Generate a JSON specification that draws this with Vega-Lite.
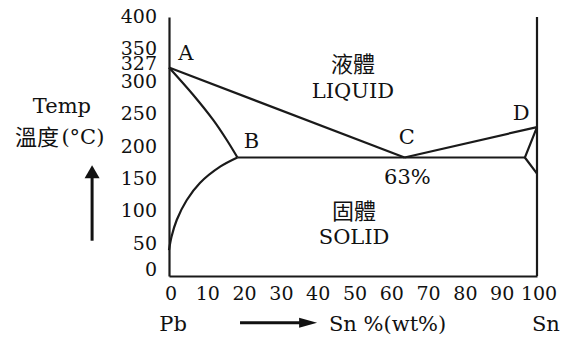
{
  "$schema": "https://vega.github.io/schema/vega-lite/v6.json",
  "width": 368,
  "height": 259,
  "autosize": {"type": "none"},
  "padding": {"left": 169, "top": 17, "right": 40, "bottom": 62},
  "background": "white",
  "config": {
    "view": {"stroke": null},
    "axis": {
      "title": null, "ticks": false, "grid": false, "labels": false,
      "domainColor": "#1a1a1a", "domainWidth": 2.2
    }
  },
  "datasets": {
    "lines": [
      {"seg": "AC", "o": 1, "x": 0, "y": 322},
      {"seg": "AC", "o": 2, "x": 64, "y": 183},
      {"seg": "CD", "o": 1, "x": 64, "y": 183},
      {"seg": "CD", "o": 2, "x": 100, "y": 230},
      {"seg": "eut", "o": 1, "x": 18.6, "y": 183},
      {"seg": "eut", "o": 2, "x": 96.7, "y": 183},
      {"seg": "Dsol", "o": 1, "x": 100, "y": 230},
      {"seg": "Dsol", "o": 2, "x": 96.7, "y": 183},
      {"seg": "Dsol", "o": 3, "x": 100, "y": 158}
    ],
    "curves": [
      {"seg": "AB", "o": 1, "x": 0, "y": 322},
      {"seg": "AB", "o": 2, "x": 6.6, "y": 279.5},
      {"seg": "AB", "o": 3, "x": 12, "y": 241},
      {"seg": "AB", "o": 4, "x": 15.7, "y": 210},
      {"seg": "AB", "o": 5, "x": 18.6, "y": 183},
      {"seg": "solv", "o": 1, "x": 0, "y": 40},
      {"seg": "solv", "o": 2, "x": 0.7, "y": 61},
      {"seg": "solv", "o": 3, "x": 2.1, "y": 86.5},
      {"seg": "solv", "o": 4, "x": 4.8, "y": 117},
      {"seg": "solv", "o": 5, "x": 8.4, "y": 143.6},
      {"seg": "solv", "o": 6, "x": 13.9, "y": 168.8},
      {"seg": "solv", "o": 7, "x": 18.6, "y": 183}
    ],
    "xticks": [
      {"v": 0}, {"v": 10}, {"v": 20}, {"v": 30}, {"v": 40}, {"v": 50},
      {"v": 60}, {"v": 70}, {"v": 80}, {"v": 90}, {"v": 100}
    ],
    "yticks": [
      {"v": 0}, {"v": 50}, {"v": 100}, {"v": 150}, {"v": 200},
      {"v": 250}, {"v": 300}, {"v": 327}, {"v": 350}, {"v": 400}
    ],
    "labels": [
      {"t": "A", "x": 4.6, "y": 343.6},
      {"t": "B", "x": 22.4, "y": 207},
      {"t": "C", "x": 64.6, "y": 212.7},
      {"t": "D", "x": 95.7, "y": 250},
      {"t": "63%", "x": 64.8, "y": 152},
      {"t": "LIQUID", "x": 50, "y": 284},
      {"t": "SOLID", "x": 50.3, "y": 58},
      {"t": "Temp", "x": -29.1, "y": 261},
      {"t": "(°C)", "x": -23.4, "y": 213},
      {"t": "Pb", "x": 1.1, "y": -75.7},
      {"t": "Sn %(wt%)", "x": 59.4, "y": -75.7},
      {"t": "Sn", "x": 102.4, "y": -75.7}
    ],
    "cjk": [
      {"t": "液體", "x": 50, "y": 326},
      {"t": "固體", "x": 50.3, "y": 99},
      {"t": "溫度", "x": -35.9, "y": 213}
    ],
    "shafts": [
      {"x": -20.9, "x2": -20.9, "y": 54.5, "y2": 155},
      {"x": 19.3, "x2": 36, "y": -72.1, "y2": -72.1}
    ],
    "headUp": [{"x": -20.9, "y": 161}],
    "headRight": [{"x": 37.8, "y": -72.1}]
  },
  "layer": [
    {
      "data": {"name": "lines"},
      "mark": {"type": "line", "color": "#1a1a1a", "strokeWidth": 2.2},
      "encoding": {
        "x": {
          "field": "x", "type": "quantitative",
          "scale": {"domain": [0, 100], "nice": false, "zero": false}
        },
        "y": {
          "field": "y", "type": "quantitative",
          "scale": {"domain": [0, 400], "nice": false}
        },
        "detail": {"field": "seg"},
        "order": {"field": "o"}
      }
    },
    {
      "data": {"name": "curves"},
      "mark": {"type": "line", "color": "#1a1a1a", "strokeWidth": 2.2, "interpolate": "catmull-rom"},
      "encoding": {
        "x": {"field": "x", "type": "quantitative"},
        "y": {"field": "y", "type": "quantitative"},
        "detail": {"field": "seg"},
        "order": {"field": "o"}
      }
    },
    {
      "data": {"values": [{"x": 100, "y": 0, "y2": 400}]},
      "mark": {"type": "rule", "color": "#1a1a1a", "strokeWidth": 2.2},
      "encoding": {
        "x": {"field": "x", "type": "quantitative"},
        "y": {"field": "y", "type": "quantitative"},
        "y2": {"field": "y2"}
      }
    },
    {
      "data": {"name": "shafts"},
      "mark": {"type": "rule", "color": "#111", "strokeWidth": 3},
      "encoding": {
        "x": {"field": "x", "type": "quantitative"},
        "x2": {"field": "x2"},
        "y": {"field": "y", "type": "quantitative"},
        "y2": {"field": "y2"}
      }
    },
    {
      "data": {"name": "headUp"},
      "mark": {"type": "point", "shape": "triangle-up", "size": 225, "filled": true, "color": "#111", "opacity": 1},
      "encoding": {
        "x": {"field": "x", "type": "quantitative"},
        "y": {"field": "y", "type": "quantitative"}
      }
    },
    {
      "data": {"name": "headRight"},
      "mark": {"type": "point", "shape": "M-1,-0.55L1,0L-1,0.55Z", "size": 324, "filled": true, "color": "#111", "opacity": 1},
      "encoding": {
        "x": {"field": "x", "type": "quantitative"},
        "y": {"field": "y", "type": "quantitative"}
      }
    },
    {
      "data": {"name": "xticks"},
      "mark": {"type": "text", "font": "DejaVu Serif", "fontSize": 19, "color": "#111", "align": "center", "baseline": "middle", "dy": 18, "dx": 2},
      "encoding": {
        "x": {"field": "v", "type": "quantitative"},
        "y": {"datum": 0, "type": "quantitative"},
        "text": {"field": "v", "type": "quantitative"}
      }
    },
    {
      "data": {"name": "yticks"},
      "transform": [{"filter": "datum.v > 0"}],
      "mark": {"type": "text", "font": "DejaVu Serif", "fontSize": 19, "color": "#111", "align": "right", "baseline": "middle", "dx": -12},
      "encoding": {
        "x": {"datum": 0, "type": "quantitative"},
        "y": {"field": "v", "type": "quantitative"},
        "text": {"field": "v", "type": "quantitative"}
      }
    },
    {
      "data": {"name": "yticks"},
      "transform": [{"filter": "datum.v === 0"}],
      "mark": {"type": "text", "font": "DejaVu Serif", "fontSize": 19, "color": "#111", "align": "right", "baseline": "middle", "dx": -12, "dy": -6},
      "encoding": {
        "x": {"datum": 0, "type": "quantitative"},
        "y": {"field": "v", "type": "quantitative"},
        "text": {"field": "v", "type": "quantitative"}
      }
    },
    {
      "data": {"name": "labels"},
      "mark": {"type": "text", "font": "DejaVu Serif", "fontSize": 21, "color": "#111", "align": "center", "baseline": "middle"},
      "encoding": {
        "x": {"field": "x", "type": "quantitative"},
        "y": {"field": "y", "type": "quantitative"},
        "text": {"field": "t"}
      }
    },
    {
      "data": {"name": "cjk"},
      "mark": {"type": "text", "font": "Noto Sans CJK TC", "fontSize": 22, "color": "#111", "align": "center", "baseline": "middle"},
      "encoding": {
        "x": {"field": "x", "type": "quantitative"},
        "y": {"field": "y", "type": "quantitative"},
        "text": {"field": "t"}
      }
    }
  ]
}
